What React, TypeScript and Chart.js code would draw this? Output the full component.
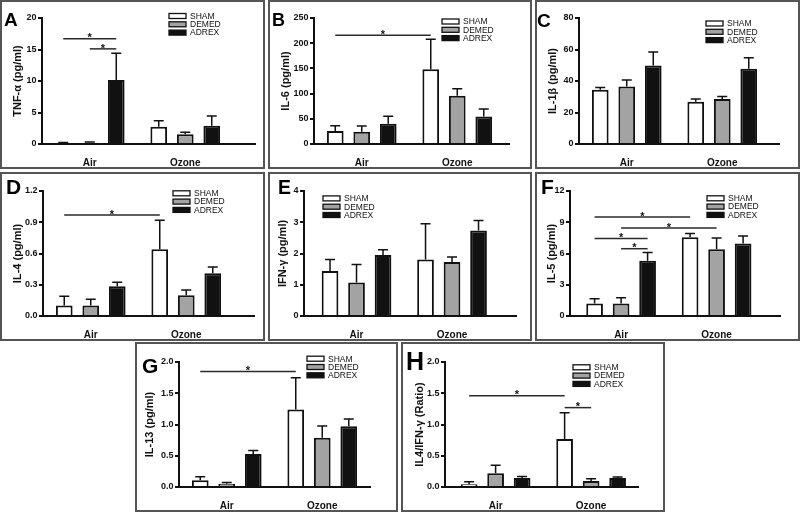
import React, { useEffect, useRef } from "react";
import { Chart, registerables } from "chart.js";

Chart.register(...registerables);

const FONT = "'Liberation Sans', Arial, Helvetica, sans-serif";
const INK = "#111111";

const groups = ["Air", "Ozone"];
const seriesNames = ["SHAM", "DEMED", "ADREX"];
const seriesFill = ["#ffffff", "#a3a3a3", "#111111"];

type Sig = { from: [number, number]; to: [number, number]; y: number };

// A — TNF-α
const tnfSham = [0.15, 2.75];
const tnfDemed = [0.2, 1.55];
const tnfAdrex = [10.15, 2.9];
const tnfShamErr = [0.1, 0.95];
const tnfDemedErr = [0.1, 0.3];
const tnfAdrexErr = [4.25, 1.55];
const tnfTicks = ["0", "5", "10", "15", "20"];
const tnfSig: Sig[] = [
  { from: [0, 0], to: [0, 2], y: 16.7 },
  { from: [0, 1], to: [0, 2], y: 15.1 },
];

// B — IL-6
const il6Sham = [26, 148.5];
const il6Demed = [24.5, 95.5];
const il6Adrex = [40, 54.5];
const il6ShamErr = [10, 59.5];
const il6DemedErr = [11, 14];
const il6AdrexErr = [15, 15];
const il6Ticks = ["0", "50", "100", "150", "200", "250"];
const il6Sig: Sig[] = [{ from: [0, 0], to: [1, 0], y: 216 }];

// C — IL-1β
const il1Sham = [34.4, 26.9];
const il1Demed = [36.5, 28.6];
const il1Adrex = [49.9, 47.7];
const il1ShamErr = [1.5, 1.7];
const il1DemedErr = [4.2, 1.5];
const il1AdrexErr = [8.5, 7];
const il1Ticks = ["0", "20", "40", "60", "80"];
const il1Sig: Sig[] = [];

// D — IL-4
const il4Sham = [0.1, 0.64];
const il4Demed = [0.1, 0.2];
const il4Adrex = [0.285, 0.41];
const il4ShamErr = [0.09, 0.28];
const il4DemedErr = [0.06, 0.05];
const il4AdrexErr = [0.04, 0.06];
const il4Ticks = ["0.0", "0.3", "0.6", "0.9", "1.2"];
const il4Sig: Sig[] = [{ from: [0, 0], to: [1, 0], y: 0.97 }];

// E — IFN-γ
const ifnSham = [1.44, 1.81];
const ifnDemed = [1.07, 1.73];
const ifnAdrex = [1.95, 2.74];
const ifnShamErr = [0.37, 1.14];
const ifnDemedErr = [0.58, 0.16];
const ifnAdrexErr = [0.17, 0.32];
const ifnTicks = ["0", "1", "2", "3", "4"];
const ifnSig: Sig[] = [];

// F — IL-5
const il5Sham = [1.2, 7.57];
const il5Demed = [1.2, 6.4];
const il5Adrex = [5.3, 6.95];
const il5ShamErr = [0.45, 0.35];
const il5DemedErr = [0.55, 1.1];
const il5AdrexErr = [0.8, 0.72];
const il5Ticks = ["0", "3", "6", "9", "12"];
const il5Sig: Sig[] = [
  { from: [0, 0], to: [1, 0], y: 9.5 },
  { from: [0, 1], to: [1, 1], y: 8.44 },
  { from: [0, 0], to: [0, 2], y: 7.45 },
  { from: [0, 1], to: [0, 2], y: 6.46 },
];

// G — IL-13
const il13Sham = [0.11, 1.24];
const il13Demed = [0.053, 0.787];
const il13Adrex = [0.53, 0.973];
const il13ShamErr = [0.055, 0.51];
const il13DemedErr = [0.02, 0.19];
const il13AdrexErr = [0.055, 0.117];
const il13Ticks = ["0.0", "0.5", "1.0", "1.5", "2.0"];
const il13Sig: Sig[] = [{ from: [0, 0], to: [1, 0], y: 1.85 }];

// H — IL4/IFN-γ ratio
const ratioSham = [0.043, 0.77];
const ratioDemed = [0.22, 0.096];
const ratioAdrex = [0.144, 0.144];
const ratioShamErr = [0.042, 0.42];
const ratioDemedErr = [0.13, 0.037];
const ratioAdrexErr = [0.026, 0.016];
const ratioTicks = ["0.0", "0.5", "1.0", "1.5", "2.0"];
const ratioSig: Sig[] = [
  { from: [0, 0], to: [1, 0], y: 1.46 },
  { from: [1, 0], to: [1, 1], y: 1.27 },
];

type PanelSpec = {
  letter: string;
  title: string;
  values: number[][];
  errs: number[][];
  ticks: string[];
  sigs: Sig[];
  box: { left: number; top: number; w: number; h: number };
  axisX: number;
  plotTop: number;
  plotBottom: number;
  lead: number;
  extra: number;
  titleX: number;
  legend: { dx: number; dy: number };
  mark: { x: number; y: number; size: number };
};

const CAT_W = 95.5;

const panels: PanelSpec[] = [
  {
    letter: "A", title: "TNF-\u03b1 (pg/ml)",
    values: [tnfSham, tnfDemed, tnfAdrex], errs: [tnfShamErr, tnfDemedErr, tnfAdrexErr],
    ticks: tnfTicks, sigs: tnfSig,
    box: { left: 0, top: 0, w: 265, h: 169 },
    axisX: 42, plotTop: 18, plotBottom: 144, lead: 0, extra: 0.24, titleX: 17.7,
    legend: { dx: 127, dy: -2 }, mark: { x: 4, y: 26, size: 19 },
  },
  {
    letter: "B", title: "IL-6 (pg/ml)",
    values: [il6Sham, il6Demed, il6Adrex], errs: [il6ShamErr, il6DemedErr, il6AdrexErr],
    ticks: il6Ticks, sigs: il6Sig,
    box: { left: 268, top: 0, w: 264, h: 169 },
    axisX: 46, plotTop: 18, plotBottom: 144, lead: 0, extra: 0.05, titleX: 17.5,
    legend: { dx: 128, dy: 3.5 }, mark: { x: 4, y: 26, size: 18 },
  },
  {
    letter: "C", title: "IL-1\u03b2 (pg/ml)",
    values: [il1Sham, il1Demed, il1Adrex], errs: [il1ShamErr, il1DemedErr, il1AdrexErr],
    ticks: il1Ticks, sigs: il1Sig,
    box: { left: 535, top: 0, w: 265, h: 169 },
    axisX: 44, plotTop: 18, plotBottom: 144, lead: 0, extra: 0.1, titleX: 18.3,
    legend: { dx: 127, dy: 5.5 }, mark: { x: 2, y: 26.5, size: 19 },
  },
  {
    letter: "D", title: "IL-4 (pg/ml)",
    values: [il4Sham, il4Demed, il4Adrex], errs: [il4ShamErr, il4DemedErr, il4AdrexErr],
    ticks: il4Ticks, sigs: il4Sig,
    box: { left: 0, top: 172, w: 265, h: 169 },
    axisX: 43, plotTop: 19, plotBottom: 144, lead: 0, extra: 0.21, titleX: 18.3,
    legend: { dx: 130, dy: 2.3 }, mark: { x: 6, y: 21.7, size: 21 },
  },
  {
    letter: "E", title: "IFN-\u03b3 (pg/ml)",
    values: [ifnSham, ifnDemed, ifnAdrex], errs: [ifnShamErr, ifnDemedErr, ifnAdrexErr],
    ticks: ifnTicks, sigs: ifnSig,
    box: { left: 268, top: 172, w: 264, h: 169 },
    axisX: 36, plotTop: 19, plotBottom: 144, lead: 0.05, extra: 0.17, titleX: 14.7,
    legend: { dx: 19, dy: 7.4 }, mark: { x: 10, y: 21.7, size: 19.5 },
  },
  {
    letter: "F", title: "IL-5 (pg/ml)",
    values: [il5Sham, il5Demed, il5Adrex], errs: [il5ShamErr, il5DemedErr, il5AdrexErr],
    ticks: il5Ticks, sigs: il5Sig,
    box: { left: 535, top: 172, w: 265, h: 169 },
    axisX: 35, plotTop: 19, plotBottom: 144, lead: 0.035, extra: 0.17, titleX: 16.7,
    legend: { dx: 137, dy: 7.3 }, mark: { x: 6, y: 21.7, size: 21 },
  },
  {
    letter: "G", title: "IL-13 (pg/ml)",
    values: [il13Sham, il13Demed, il13Adrex], errs: [il13ShamErr, il13DemedErr, il13AdrexErr],
    ticks: il13Ticks, sigs: il13Sig,
    box: { left: 135, top: 342, w: 263, h: 170 },
    axisX: 44, plotTop: 20, plotBottom: 145, lead: 0, extra: 0, titleX: 15,
    legend: { dx: 128, dy: -3.3 }, mark: { x: 7, y: 31, size: 21 },
  },
  {
    letter: "H", title: "IL4/IFN-\u03b3 (Ratio)",
    values: [ratioSham, ratioDemed, ratioAdrex], errs: [ratioShamErr, ratioDemedErr, ratioAdrexErr],
    ticks: ratioTicks, sigs: ratioSig,
    box: { left: 401, top: 342, w: 264, h: 170 },
    axisX: 44, plotTop: 20, plotBottom: 145, lead: 0.03, extra: 0, titleX: 18.5,
    legend: { dx: 128, dy: 5.3 }, mark: { x: 5, y: 28, size: 25 },
  },
];

function Panel({ spec }: { spec: PanelSpec }) {
  const ref = useRef<HTMLCanvasElement>(null);

  useEffect(() => {
    const canvas = ref.current;
    if (!canvas) return;
    const { box } = spec;
    const tickVals = spec.ticks.map(Number);
    const yMax = tickVals[tickVals.length - 1];
    const units = 2 + spec.lead + spec.extra;
    const plotW = CAT_W * units;

    const decor = {
      id: "decor" + spec.letter,
      afterDatasetsDraw(chart: any) {
        const ctx = chart.ctx;
        const ys = chart.scales.y;
        ctx.save();
        ctx.strokeStyle = INK;
        ctx.lineWidth = 1.5;
        spec.errs.forEach((errArr, di) => {
          const meta = chart.getDatasetMeta(di);
          meta.data.forEach((el: any, j: number) => {
            const v = spec.values[di][j];
            const yTop = ys.getPixelForValue(v + errArr[j]);
            ctx.beginPath();
            ctx.moveTo(el.x, el.y);
            ctx.lineTo(el.x, yTop);
            ctx.moveTo(el.x - 5, yTop);
            ctx.lineTo(el.x + 5, yTop);
            ctx.stroke();
          });
        });
        ctx.strokeStyle = "#2a2a2a";
        ctx.fillStyle = INK;
        ctx.font = `bold 11px ${FONT}`;
        ctx.textAlign = "center";
        ctx.textBaseline = "alphabetic";
        spec.sigs.forEach((s) => {
          const x1 = chart.getDatasetMeta(s.from[1]).data[s.from[0]].x;
          const x2 = chart.getDatasetMeta(s.to[1]).data[s.to[0]].x;
          const y = ys.getPixelForValue(s.y);
          ctx.beginPath();
          ctx.moveTo(x1, y);
          ctx.lineTo(x2, y);
          ctx.stroke();
          ctx.fillText("*", (x1 + x2) / 2, y + 2.7);
        });
        ctx.restore();
      },
      afterDraw(chart: any) {
        const ctx = chart.ctx;
        const area = chart.chartArea;
        ctx.save();
        ctx.font = `8.5px ${FONT}`;
        ctx.textAlign = "left";
        ctx.textBaseline = "middle";
        chart.data.datasets.forEach((ds: any, i: number) => {
          const x0 = area.left + spec.legend.dx;
          const cy = area.top + spec.legend.dy + i * 8.3;
          ctx.fillStyle = ds.backgroundColor;
          ctx.fillRect(x0, cy - 2.5, 17, 5);
          ctx.strokeStyle = INK;
          ctx.lineWidth = 1.3;
          ctx.strokeRect(x0, cy - 2.5, 17, 5);
          ctx.fillStyle = INK;
          ctx.fillText(ds.label, x0 + 21, cy + 0.5);
        });
        ctx.font = `bold ${spec.mark.size}px ${FONT}`;
        ctx.textBaseline = "alphabetic";
        ctx.fillStyle = "#000";
        ctx.fillText(spec.letter, spec.mark.x, spec.mark.y);
        ctx.restore();
      },
    };

    const chart = new Chart(canvas, {
      type: "bar",
      data: {
        labels: groups,
        datasets: seriesNames.map((name, i) => ({
          label: name,
          data: spec.values[i],
          backgroundColor: seriesFill[i],
          borderColor: INK,
          borderWidth: 2,
          categoryPercentage: 79.5 / CAT_W,
          barPercentage: 0.63,
        })),
      },
      options: {
        responsive: false,
        maintainAspectRatio: false,
        animation: false,
        devicePixelRatio: 1,
        layout: {
          padding: {
            left: 0,
            top: spec.plotTop,
            right: box.w - spec.axisX - plotW,
            bottom: 0,
          },
        },
        plugins: {
          legend: { display: false },
          tooltip: { enabled: false },
          title: { display: false },
        },
        scales: {
          x: {
            type: "category",
            z: 1,
            afterFit: (s: any) => {
              s.height = box.h - spec.plotBottom;
            },
            afterBuildTicks: (s: any) => {
              s._startValue = -0.5 - spec.lead;
              s._valueRange = units;
            },
            ticks: {
              font: { family: FONT, size: 10, weight: "bold" },
              color: INK,
              padding: 5,
              maxRotation: 0,
              autoSkip: false,
            },
            grid: { display: false },
            border: { display: true, color: INK, width: 2 },
          },
          y: {
            type: "linear",
            z: 1,
            min: 0,
            max: yMax,
            afterBuildTicks: (s: any) => {
              s.ticks = tickVals.map((v) => ({ value: v }));
            },
            afterFit: (s: any) => {
              s.width = spec.axisX;
            },
            ticks: {
              font: { family: FONT, size: 9, weight: "bold" },
              color: INK,
              padding: 1.5,
              autoSkip: false,
              callback: (_v: any, i: number) => spec.ticks[i],
            },
            grid: {
              display: true,
              drawOnChartArea: false,
              drawTicks: true,
              tickLength: 4,
              color: INK,
              lineWidth: 2,
            },
            border: { display: true, color: INK, width: 2 },
            title: {
              display: true,
              text: spec.title,
              font: { family: FONT, size: 11, weight: "bold" },
              color: INK,
              padding: { top: spec.titleX - 6.6, bottom: 0 },
            },
          },
        },
      } as any,
      plugins: [decor],
    });
    return () => chart.destroy();
  }, [spec]);

  const { box } = spec;
  return (
    <>
      <canvas
        ref={ref}
        width={box.w}
        height={box.h}
        style={{ position: "absolute", left: box.left, top: box.top, width: box.w, height: box.h }}
      />
      <div
        style={{
          position: "absolute",
          left: box.left,
          top: box.top,
          width: box.w,
          height: box.h,
          border: "2px solid #555",
          boxSizing: "border-box",
          pointerEvents: "none",
        }}
      />
    </>
  );
}

export default function App() {
  return (
    <div
      style={{
        position: "absolute",
        left: 0,
        top: 0,
        width: 800,
        height: 512,
        background: "#fff",
        overflow: "hidden",
      }}
    >
      {panels.map((p) => (
        <Panel key={p.letter} spec={p} />
      ))}
    </div>
  );
}
